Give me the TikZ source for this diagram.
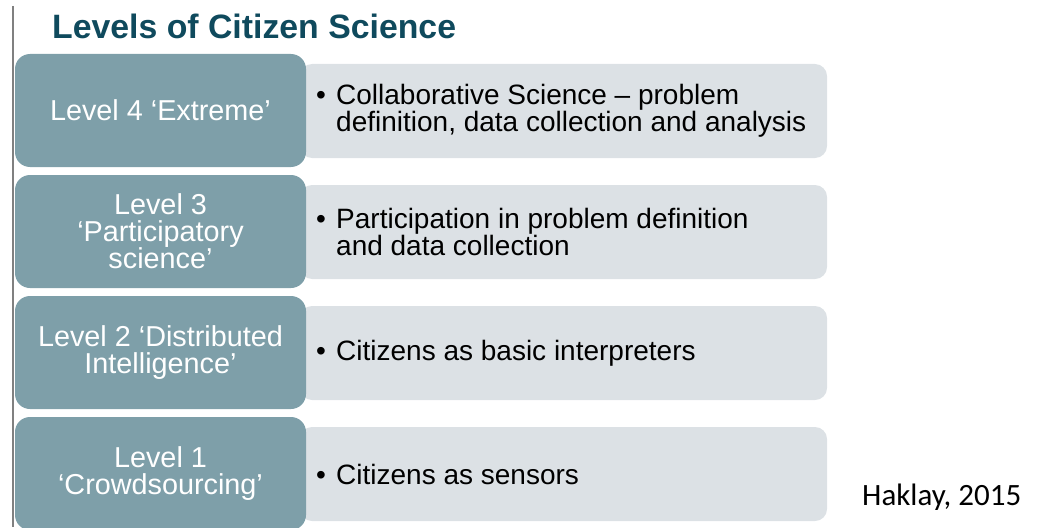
\documentclass[tikz,border=0pt]{standalone}
\usepackage{fontspec}
\setmainfont{Liberation Sans}
\newfontfamily\calfont{Carlito}
\definecolor{tealbox}{HTML}{7E9FA9}
\definecolor{graybox}{HTML}{DCE1E5}
\definecolor{titleblue}{HTML}{0F4A5D}
\definecolor{rulegray}{HTML}{808080}
\begin{document}
\begin{tikzpicture}[x=1pt,y=-1pt,
  levelbox/.style={fill=tealbox, draw=none, rounded corners=15pt, minimum width=291pt, minimum height=113pt, inner sep=0pt,
    text=white, align=center, font=\fontsize{28.8}{26.5}\selectfont},
  descbox/.style={fill=graybox, draw=none, rounded corners=12pt, minimum width=527pt, minimum height=94pt, inner sep=0pt},
  desctext/.style={anchor=west, align=left, inner sep=0pt, text=black, font=\fontsize{28}{27}\selectfont}]
\useasboundingbox (0,0) rectangle (1062,527);
\coordinate (ltop) at (13,6);
\coordinate (lbot) at (13,527);
\draw[rulegray, line width=1.5pt] (ltop) -- (lbot);
\node[anchor=base west, inner sep=0pt, text=titleblue, font=\fontsize{33.8}{36}\bfseries\selectfont] (title) at (52,38) {Levels of Citizen Science};
% description boxes
\node[descbox] (d4) at (563.5,111) {};
\node[descbox] (d3) at (563.5,232) {};
\node[descbox] (d2) at (563.5,353) {};
\node[descbox] (d1) at (563.5,474) {};
% level boxes
\node[levelbox] (l4) at (160.5,110.5) {Level 4 ‘Extreme’};
\node[levelbox] (l3) at (160.5,231.5) {Level 3\\‘Participatory\\science’};
\node[levelbox] (l2) at (160.5,352.5) {Level 2 ‘Distributed\\Intelligence’};
\node[levelbox] (l1) at (160.5,473.5) {Level 1\\‘Crowdsourcing’};
% texts
\node[desctext] (t4) at (316,111) {\makebox[20pt][l]{•}Collaborative Science – problem\\\hspace*{20pt}definition, data collection and analysis};
\node[desctext] (t3) at (316,232) {\makebox[20pt][l]{•}Participation in problem definition\\\hspace*{20pt}and data collection};
\node[desctext] (t2) at (316,353) {\makebox[20pt][l]{•}Citizens as basic interpreters};
\node[desctext] (t1) at (316,474) {\makebox[20pt][l]{•}Citizens as sensors};
\node[anchor=base west, inner sep=0pt, font=\calfont\fontsize{31}{34}\selectfont] (cite) at (862,505) {Haklay, 2015};
\end{tikzpicture}
\end{document}
